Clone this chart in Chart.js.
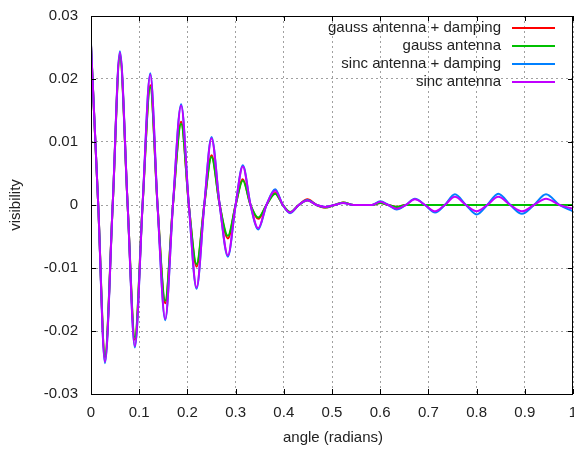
<!DOCTYPE html>
<html>
<head>
<meta charset="utf-8">
<script src="https://cdn.jsdelivr.net/npm/chart.js@4"></script>
<style>
  html, body { margin: 0; padding: 0; background: #fff; }
  #wrap { width: 574px; height: 450px; }
</style>
</head>
<body>
<div id="wrap"><canvas id="c" width="574" height="450"></canvas></div>
<script>
// ---- data ----
const angle = [0, 0.015, 0.029, 0.045, 0.060, 0.076, 0.091, 0.107, 0.123, 0.138, 0.154, 0.170, 0.187, 0.203, 0.219, 0.235, 0.250, 0.267, 0.284, 0.300, 0.315, 0.331, 0.347, 0.364, 0.382, 0.398, 0.413, 0.431, 0.449, 0.468, 0.486, 0.505, 0.523, 0.545, 0.565, 0.583, 0.600, 0.617, 0.634, 0.653, 0.672, 0.693, 0.714, 0.734, 0.755, 0.778, 0.800, 0.822, 0.845, 0.870, 0.894, 0.919, 0.944, 0.972, 1.0];

const gaussDamping = [0.0254, 0, -0.0242, 0, 0.0238, 0, -0.0214, 0, 0.0190, 0, -0.0156, 0, 0.0132, 0, -0.0098, 0, 0.0079, 0, -0.0053, 0, 0.0041, 0, -0.0022, 0, 0.0019, 0, -0.0012, 0, 0.0009, 0, -0.0004, 0, 0.0004, 0, 0, 0, 0.0003, 0, -0.0003, 0, 0, 0, 0, 0, 0, 0, 0, 0, 0, 0, 0, 0, 0, 0, 0];

const gauss = [0.0252, 0, -0.0239, 0, 0.0235, 0, -0.0210, 0, 0.0187, 0, -0.0152, 0, 0.0129, 0, -0.0094, 0, 0.0076, 0, -0.0049, 0, 0.0039, 0, -0.0020, 0, 0.0018, 0, -0.0011, 0, 0.0007, 0, -0.0004, 0, 0.0004, 0, 0, 0, 0.0003, 0, -0.0003, 0, 0, 0, 0, 0, 0, 0, 0, 0, 0, 0, 0, 0, 0, 0, 0];

const sincDamping = [0.0256, 0, -0.0251, 0, 0.0244, 0, -0.0226, 0, 0.0209, 0, -0.0183, 0, 0.0160, 0, -0.0133, 0, 0.0108, 0, -0.0082, 0, 0.0063, 0, -0.0039, 0, 0.0025, 0, -0.0013, 0, 0.0008, 0, -0.0003, 0, 0.0003, 0, 0, 0, 0.0006, 0, -0.0007, 0, 0.0010, 0, -0.0012, 0, 0.0017, 0, -0.0015, 0, 0.0018, 0, -0.0014, 0, 0.0017, 0, -0.0010];

const sinc = [0.0254, 0, -0.0249, 0, 0.0242, 0, -0.0224, 0, 0.0207, 0, -0.0181, 0, 0.0158, 0, -0.0131, 0, 0.0106, 0, -0.0080, 0, 0.0061, 0, -0.0037, 0, 0.0023, 0, -0.0012, 0, 0.0007, 0, -0.0003, 0, 0.0003, 0, 0, 0, 0.0005, 0, -0.0006, 0, 0.0009, 0, -0.0010, 0, 0.0013, 0, -0.0010, 0, 0.0013, 0, -0.0010, 0, 0.0010, 0, -0.0006];

const seriesNames = ['gauss antenna + damping', 'gauss antenna', 'sinc antenna + damping', 'sinc antenna'];
const seriesColors = ['#ff0000', '#00c000', '#0080ff', '#c000ff'];

const xTicks = [0, 0.1, 0.2, 0.3, 0.4, 0.5, 0.6, 0.7, 0.8, 0.9, 1];
const xTickLabels = ['0', '0.1', '0.2', '0.3', '0.4', '0.5', '0.6', '0.7', '0.8', '0.9', '1'];
const yTicks = [-0.03, -0.02, -0.01, 0, 0.01, 0.02, 0.03];
const yTickLabels = ['-0.03', '-0.02', '-0.01', '0', '0.01', '0.02', '0.03'];

const xTitle = 'angle (radians)';
const yTitle = 'visibility';

// ---- chart ----
const allSeries = [gaussDamping, gauss, sincDamping, sinc];
const FONT = '15px "Liberation Sans", Arial, sans-serif';
const TEXT_COLOR = '#222';

const datasets = allSeries.map((ys, i) => ({
  label: seriesNames[i],
  data: angle.map((x, k) => ({ x: x, y: ys[k] })),
  borderColor: seriesColors[i],
  backgroundColor: seriesColors[i],
  borderWidth: 2,
  pointRadius: 0,
  fill: false,
  cubicInterpolationMode: 'monotone',
  order: allSeries.length - i
}));

const gnuplotDeco = {
  id: 'gnuplotDeco',
  afterDraw(chart) {
    const ctx = chart.ctx;
    const xs = chart.scales.x, ys = chart.scales.y;
    const a = chart.chartArea;
    ctx.save();
    // frame
    ctx.strokeStyle = '#000';
    ctx.lineWidth = 1;
    ctx.setLineDash([]);
    ctx.strokeRect(Math.round(a.left) + 0.5, Math.round(a.top) + 0.5,
                   Math.round(a.right - a.left) - 1, Math.round(a.bottom - a.top));
    // inward ticks on all sides
    const tl = 5;
    ctx.beginPath();
    xTicks.forEach(v => {
      const px = Math.round(xs.getPixelForValue(v)) + 0.5;
      ctx.moveTo(px, a.bottom); ctx.lineTo(px, a.bottom - tl);
      ctx.moveTo(px, a.top); ctx.lineTo(px, a.top + tl);
    });
    yTicks.forEach(v => {
      const py = Math.round(ys.getPixelForValue(v)) + 0.5;
      ctx.moveTo(a.left, py); ctx.lineTo(a.left + tl, py);
      ctx.moveTo(a.right, py); ctx.lineTo(a.right - tl, py);
    });
    ctx.stroke();
    // tick labels
    ctx.fillStyle = TEXT_COLOR;
    ctx.font = FONT;
    ctx.textAlign = 'right';
    ctx.textBaseline = 'middle';
    yTicks.forEach((v, i) => {
      ctx.fillText(yTickLabels[i], a.left - 13, ys.getPixelForValue(v));
    });
    ctx.textAlign = 'center';
    xTicks.forEach((v, i) => {
      ctx.fillText(xTickLabels[i], xs.getPixelForValue(v), a.bottom + 19);
    });
    // axis titles
    ctx.fillText(xTitle, (a.left + a.right) / 2 + 1, a.bottom + 44);
    ctx.save();
    ctx.translate(16, (a.top + a.bottom) / 2);
    ctx.rotate(-Math.PI / 2);
    ctx.fillText(yTitle, 0, 0);
    ctx.restore();
    // key
    const rowY = [28, 46, 64, 82];
    seriesNames.forEach((name, i) => {
      ctx.textAlign = 'right';
      ctx.fillStyle = TEXT_COLOR;
      ctx.fillText(name, 501, rowY[i]);
      ctx.strokeStyle = seriesColors[i];
      ctx.lineWidth = 2;
      ctx.beginPath();
      ctx.moveTo(512, rowY[i]); ctx.lineTo(555, rowY[i]);
      ctx.stroke();
    });
    ctx.restore();
  }
};

new Chart(document.getElementById('c'), {
  type: 'line',
  data: { datasets },
  options: {
    responsive: false,
    animation: false,
    devicePixelRatio: 1,
    layout: { padding: { left: 91, right: 1, top: 16, bottom: 56 } },
    plugins: { legend: { display: false }, tooltip: { enabled: false } },
    scales: {
      x: {
        type: 'linear', min: 0, max: 1,
        afterBuildTicks: s => { s.ticks = xTicks.map(v => ({ value: v })); },
        afterFit: s => { s.height = 0; },
        ticks: { display: false },
        grid: { color: '#a0a0a0', lineWidth: 1, drawTicks: false },
        border: { display: false, dash: [2, 3] }
      },
      y: {
        type: 'linear', min: -0.03, max: 0.03,
        afterBuildTicks: s => { s.ticks = yTicks.map(v => ({ value: v })); },
        afterFit: s => { s.width = 0; },
        ticks: { display: false },
        grid: { color: '#a0a0a0', lineWidth: 1, drawTicks: false },
        border: { display: false, dash: [2, 3] }
      }
    }
  },
  plugins: [gnuplotDeco]
});
</script>
</body>
</html>
